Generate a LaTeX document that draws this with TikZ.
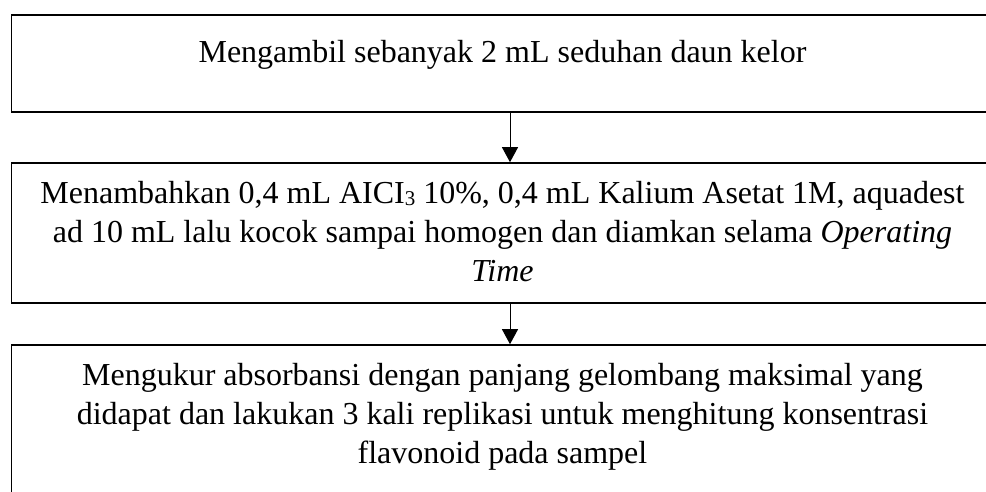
\documentclass[tikz,border=0pt]{standalone}
\usepackage{fontspec}
\setmainfont{Liberation Serif}
\usetikzlibrary{arrows.meta}
\newcommand{\smallsub}[1]{\raisebox{-2pt}{\fontsize{21}{21}\selectfont #1}}
\begin{document}
\begin{tikzpicture}[x=1pt,y=1pt,
  stepbox/.style={draw=black, line width=1.6pt, minimum width=997pt, inner sep=0pt},
  steptext/.style={anchor=base, align=center, inner sep=0pt, font=\fontsize{32}{39}\selectfont},
  flow/.style={-{Triangle[length=15pt,width=16pt]}, line width=1pt}]
\useasboundingbox (0,0) rectangle (986,491);

% process boxes
\node[stepbox, minimum height=97pt]  (b1) at (510,427.5) {};
\node[stepbox, minimum height=140pt] (b2) at (510,258) {};
\node[stepbox, minimum height=180pt] (b3) at (510,56) {};

% box texts (base anchor sits on the last line)
\node[steptext] (t1) at (502.5,428) {Mengambil sebanyak 2 mL seduhan daun kelor};
\node[steptext] (t2) at (502.5,210) {Menambahkan 0,4 mL AICI\smallsub{3} 10\%, 0,4 mL Kalium Asetat 1M, aquadest\\
  ad 10 mL lalu kocok sampai homogen dan diamkan selama \textit{Operating}\\
  \textit{Time}};
\node[steptext] (t3) at (502.5,28) {Mengukur absorbansi dengan panjang gelombang maksimal yang\\
  didapat dan lakukan 3 kali replikasi untuk menghitung konsentrasi\\
  flavonoid pada sampel};

% connectors
\draw[flow] (b1.south) -- (b2.north);
\draw[flow] (b2.south) -- (b3.north);
\end{tikzpicture}
\end{document}
